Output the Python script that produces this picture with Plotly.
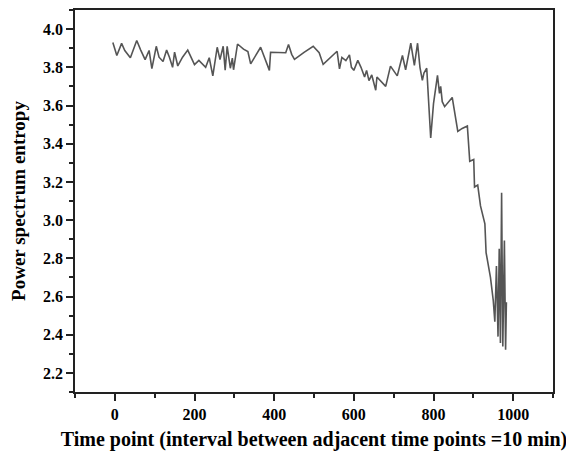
import plotly.graph_objects as go

time_point = [-5, 5, 17, 25, 39, 55, 65, 76, 86, 93, 104, 111, 121, 130, 137, 145, 150, 158, 170, 183,
              200, 211, 228, 237, 246, 257, 264, 272, 277, 282, 290, 295, 298, 308, 323, 334, 341, 366,
              388, 391, 429, 436, 444, 451, 475, 498, 513, 523, 558, 564, 570, 580, 589, 594, 600, 610,
              618, 627, 632, 638, 645, 655, 658, 680, 692, 709, 722, 730, 743, 752, 760, 766, 772, 776,
              783, 789, 793, 800, 806, 810, 815, 818, 822, 828, 847, 861, 872, 885, 891, 901, 903, 911,
              918, 929, 932, 943, 950, 954, 958, 962, 965, 968, 971, 974, 978, 981, 983]
entropy = [3.93, 3.862, 3.925, 3.888, 3.85, 3.94, 3.89, 3.84, 3.888, 3.793, 3.91, 3.853, 3.83, 3.89,
           3.853, 3.80, 3.879, 3.807, 3.853, 3.89, 3.814, 3.836, 3.80, 3.85, 3.755, 3.905, 3.84, 3.91,
           3.785, 3.91, 3.795, 3.848, 3.787, 3.922, 3.895, 3.882, 3.818, 3.905, 3.784, 3.879, 3.876,
           3.919, 3.868, 3.842, 3.878, 3.91, 3.876, 3.815, 3.884, 3.792, 3.852, 3.835, 3.865, 3.80,
           3.784, 3.836, 3.80, 3.749, 3.784, 3.730, 3.76, 3.68, 3.749, 3.70, 3.806, 3.755, 3.862, 3.787,
           3.926, 3.81, 3.926, 3.80, 3.732, 3.77, 3.795, 3.594, 3.43, 3.61, 3.70, 3.758, 3.663, 3.70,
           3.62, 3.594, 3.642, 3.464, 3.48, 3.493, 3.308, 3.317, 3.173, 3.183, 3.074, 2.98, 2.83, 2.70,
           2.58, 2.468, 2.76, 2.39, 2.85, 2.356, 3.143, 2.338, 2.893, 2.321, 2.57]

x_tickvals = [0, 200, 400, 600, 800, 1000]
y_tickvals = [2.2, 2.4, 2.6, 2.8, 3.0, 3.2, 3.4, 3.6, 3.8, 4.0]

fig = go.Figure(go.Scatter(x=time_point, y=entropy, mode="lines",
                           line=dict(color="#555555", width=1.6)))

tickfont = dict(family="Liberation Serif", size=16, color="black", weight="bold")
xtitlefont = dict(family="Liberation Serif", size=20, color="black", weight="bold")
ytitlefont = dict(family="Liberation Serif", size=19, color="black", weight="bold")
axis_common = dict(showgrid=False, zeroline=False, showline=True, linecolor="#222222", linewidth=1.5,
                   mirror=True, ticks="outside", tickcolor="#222222", tickwidth=1.5, ticklen=7,
                   tickfont=tickfont)

fig.update_xaxes(range=[-100, 1100], tickvals=x_tickvals,
                 minor=dict(dtick=100, tick0=0, ticks="outside", ticklen=4, tickcolor="#222222", tickwidth=1.5),
                 title=dict(text="Time point (interval between adjacent time points =10 min)",
                            font=xtitlefont, standoff=10),
                 **axis_common)
fig.update_yaxes(range=[2.1, 4.1], tickvals=y_tickvals, tickformat=".1f",
                 minor=dict(dtick=0.1, tick0=2.2, ticks="outside", ticklen=4, tickcolor="#222222", tickwidth=1.5),
                 title=dict(text="Power spectrum entropy", font=ytitlefont, standoff=12),
                 **axis_common)

fig.update_layout(width=566, height=456, margin=dict(l=75, r=13, t=8, b=64),
                  plot_bgcolor="white", paper_bgcolor="white", showlegend=False)

fig.write_html("out.html")
